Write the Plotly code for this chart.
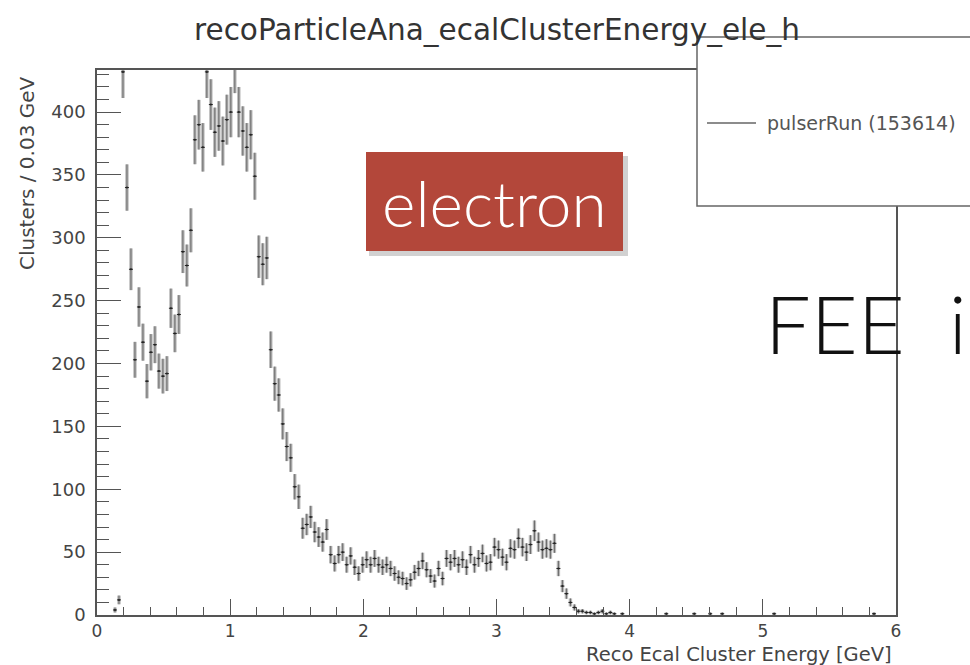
import math
import plotly.graph_objects as go

# ---------------- data ----------------
bin_width = 0.03
n_bins = 200
counts = [
    None, None, None, None, 4, 12, 432, 340, 275, 203,
    245, 217, 186, 209, 215, 194, 190, 192, 244, 224,
    239, 289, 278, 306, 378, 390, 372, 432, 406, 384,
    389, 377, 394, 400, 436, 400, 385, 372, 382, 349,
    285, 279, 284, 211, 184, 175, 152, 134, 125, 102,
    94, 69, 72, 78, 66, 62, 58, 68, 48, 41,
    48, 50, 40, 47, 38, 33, 40, 44, 40, 45,
    40, 38, 40, 37, 33, 30, 29, 25, 28, 34,
    37, 43, 36, 31, 27, 37, 29, 45, 42, 45,
    40, 44, 38, 48, 40, 45, 49, 41, 42, 54,
    52, 46, 42, 53, 52, 61, 54, 50, 56, 67,
    58, 52, 53, 52, 57, 37, 23, 17, 10, 6,
    3, 3, 2, 2, 1, 2, 3, 1, 2, 1,
    None, 1, None, None, None, None, None, None, None, None,
    None, None, 1, None, None, None, None, None, None, 1,
    None, None, None, 1, None, None, 1, None, None, None,
    None, None, None, None, None, None, None, None, None, 1,
    None, None, None, None, None, None, None, None, None, None,
    None, None, None, None, None, None, None, None, None, None,
    None, None, None, None, 1, None, None, None, None, None,
]
x_ticks = [0, 1, 2, 3, 4, 5, 6]
y_ticks = [0, 50, 100, 150, 200, 250, 300, 350, 400]

title_text = "recoParticleAna_ecalClusterEnergy_ele_h"
x_title = "Reco Ecal Cluster Energy [GeV]"
y_title = "Clusters / 0.03 GeV"
legend_text = "pulserRun (153614)"

# bin centres and Poisson errors derived from the counts
centers = [bin_width * (i + 0.5) for i in range(n_bins)]
errors = [math.sqrt(c) if c is not None else None for c in counts]

# ---------------- geometry helpers ----------------
W, H = 970, 665
L, R, T, B = 97, 896, 70, 615


def px(xp):
    return (xp - L) / (R - L)


def py(yp):
    return (B - yp) / (B - T)


fig = go.Figure()

# wide light band of the error bars
fig.add_trace(go.Scatter(
    x=centers, y=counts, mode="markers",
    marker=dict(size=0.1, color="rgba(0,0,0,0)"),
    error_y=dict(type="data", array=errors, visible=True,
                 color="#b8b8b8", thickness=3.4, width=0),
    showlegend=False, hoverinfo="skip", cliponaxis=True,
))
# thin dark line inside + horizontal bin-width bar
fig.add_trace(go.Scatter(
    x=centers, y=counts, mode="markers",
    marker=dict(size=2, color="#222"),
    error_y=dict(type="data", array=errors, visible=True,
                 color="#6a6a6a", thickness=1, width=0),
    error_x=dict(type="constant", value=bin_width / 2, visible=True,
                 color="#222", thickness=1, width=0),
    showlegend=False, cliponaxis=True,
))

axis_col = "#555"
font_col = "#444"
fam = "DejaVu Sans, Verdana, sans-serif"

fig.update_layout(
    width=W, height=H,
    margin=dict(l=L, r=W - R, t=T, b=H - B, pad=0),
    paper_bgcolor="white", plot_bgcolor="white",
    font=dict(family=fam, color=font_col, size=15),
    xaxis=dict(
        range=[0, 6], tickvals=x_ticks, ticktext=[str(v) for v in x_ticks],
        showline=True, linecolor=axis_col, linewidth=1.5, mirror=True,
        ticks="inside", ticklen=16, tickwidth=1.2, tickcolor=axis_col,
        minor=dict(dtick=0.2, ticks="inside", ticklen=8, tickwidth=1, tickcolor=axis_col),
        showgrid=False, zeroline=False,
        tickfont=dict(size=17, color=font_col, family=fam), ticklabelstandoff=0,
    ),
    yaxis=dict(
        range=[0, 433.5], tickvals=y_ticks, ticktext=[str(v) for v in y_ticks],
        showline=True, linecolor=axis_col, linewidth=1.5, mirror=True,
        ticks="inside", ticklen=24, tickwidth=1.2, tickcolor=axis_col,
        minor=dict(dtick=10, ticks="inside", ticklen=12, tickwidth=1, tickcolor=axis_col),
        showgrid=False, zeroline=False,
        tickfont=dict(size=18, color=font_col, family=fam), ticklabelstandoff=6,
    ),
)

shapes = []
# legend box (extends off the right edge)
shapes.append(dict(type="rect", xref="paper", yref="paper",
                   x0=px(697), x1=px(990), y0=py(206), y1=py(37),
                   fillcolor="white", line=dict(color="#666", width=1.5),
                   layer="above"))
shapes.append(dict(type="line", xref="paper", yref="paper",
                   x0=px(707), x1=px(756), y0=py(123), y1=py(123),
                   line=dict(color="#666", width=1.5), layer="above"))
# "electron" label with soft shadow
shapes.append(dict(type="rect", xref="paper", yref="paper",
                   x0=px(369), x1=px(628), y0=py(256), y1=py(156),
                   fillcolor="rgba(0,0,0,0.18)", line=dict(width=0),
                   layer="above"))
shapes.append(dict(type="rect", xref="paper", yref="paper",
                   x0=px(366), x1=px(623), y0=py(251), y1=py(152),
                   fillcolor="#b3473a", line=dict(width=0),
                   layer="above"))
fig.update_layout(shapes=shapes)

annotations = [
    dict(text=title_text, xref="paper", yref="paper", x=px(497), y=py(30),
         xanchor="center", yanchor="middle", showarrow=False,
         font=dict(size=29.5, color="#333", family=fam)),
    dict(text=legend_text, xref="paper", yref="paper", x=px(765), y=py(123),
         xanchor="left", yanchor="middle", showarrow=False,
         font=dict(size=19, color="#555", family=fam)),
    dict(text=x_title, xref="paper", yref="paper", x=px(894), y=py(654),
         xanchor="right", yanchor="middle", showarrow=False,
         font=dict(size=19.5, color=font_col, family=fam)),
    dict(text=y_title, xref="paper", yref="paper", x=px(27), y=py(74),
         xanchor="center", yanchor="top", showarrow=False, textangle=-90,
         font=dict(size=20, color=font_col, family=fam)),
    dict(text="electron", xref="paper", yref="paper", x=px(494), y=py(203),
         xanchor="center", yanchor="middle", showarrow=False,
         font=dict(size=64, color="white", family="Lato, Open Sans, sans-serif", weight=300)),
    dict(text="FEE\u00a0 i", xref="paper", yref="paper", x=px(763), y=py(322),
         xanchor="left", yanchor="middle", showarrow=False,
         font=dict(size=81, color="#111", family="Lato, Open Sans, sans-serif", weight=300)),
]
fig.update_layout(annotations=annotations)

fig.write_html("out.html")
